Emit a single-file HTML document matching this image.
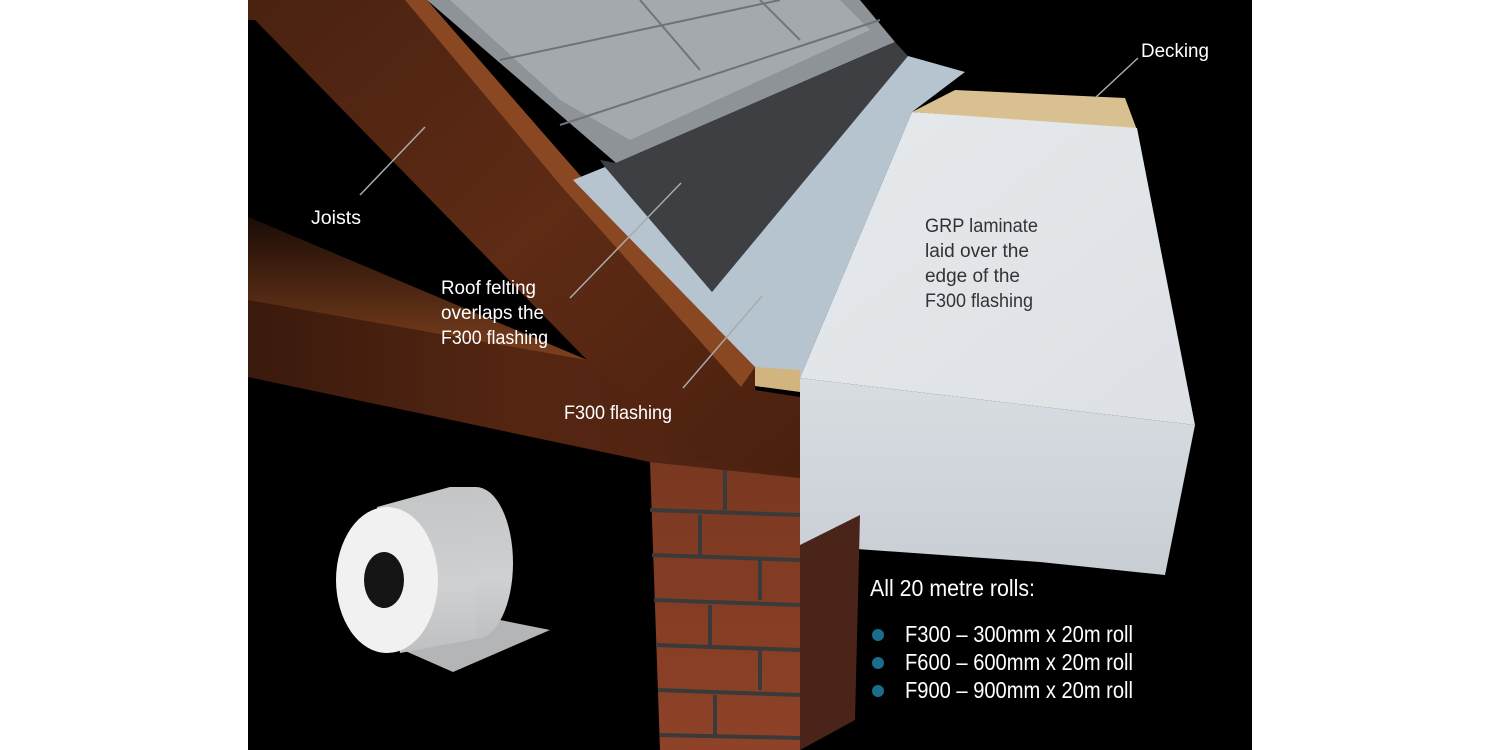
<!DOCTYPE html>
<html><head><meta charset="utf-8"><style>
html,body{margin:0;padding:0;background:#fff;}
svg{display:block}
text{font-family:"Liberation Sans Narrow","Liberation Sans",sans-serif;}
</style></head><body>
<svg width="1500" height="750" viewBox="0 0 1500 750" xmlns="http://www.w3.org/2000/svg">
<defs>
<linearGradient id="wood" x1="0" y1="0" x2="1" y2="1">
<stop offset="0" stop-color="#4a2210"/><stop offset="0.5" stop-color="#5e2b15"/><stop offset="1" stop-color="#4a200e"/>
</linearGradient>
<linearGradient id="tie" x1="0" y1="0" x2="1" y2="0">
<stop offset="0" stop-color="#3a1a0c"/><stop offset="0.5" stop-color="#552612"/><stop offset="1" stop-color="#4e2210"/>
</linearGradient>
<linearGradient id="tietop" x1="0" y1="0" x2="0" y2="1">
<stop offset="0" stop-color="#1a0c06"/><stop offset="1" stop-color="#7e401e"/>
</linearGradient>
<linearGradient id="grpf" x1="0" y1="0" x2="0" y2="1">
<stop offset="0" stop-color="#d8dde2"/><stop offset="1" stop-color="#c8ced4"/>
</linearGradient>
<linearGradient id="grpt" x1="0" y1="0" x2="1" y2="1">
<stop offset="0" stop-color="#e6e9ec"/><stop offset="1" stop-color="#dde1e5"/>
</linearGradient>
<linearGradient id="brick" x1="0" y1="0" x2="0" y2="1">
<stop offset="0" stop-color="#7a3820"/><stop offset="1" stop-color="#8e4228"/>
</linearGradient>
<linearGradient id="rollb" x1="0" y1="0" x2="0" y2="1">
<stop offset="0" stop-color="#c4c5c6"/><stop offset="0.6" stop-color="#cfd0d1"/><stop offset="1" stop-color="#bfc0c1"/>
</linearGradient>
</defs>
<rect x="248" y="0" width="1004" height="750" fill="#000"/>
<!-- tie beam -->
<polygon points="248,217 587,360 800,400 800,478 650,462 248,377" fill="url(#tie)"/>
<polygon points="248,217 587,360 248,300" fill="url(#tietop)"/>
<!-- rafter front face -->
<polygon points="248,0 427,0 584,180 755,367 755,390 800,397 800,478 700,460 587,360 255,20 248,20" fill="url(#wood)"/>
<polygon points="405,0 427,0 584,180 755,367 741,387 562,187" fill="#8a4822"/>
<!-- slates -->
<polygon points="427,0 860,0 895,42 616,163" fill="#8e9398"/>
<polygon points="450,0 840,0 870,30 630,140 560,100" fill="#a4a9ae"/>
<line x1="500" y1="60" x2="780" y2="0" stroke="#6e7377" stroke-width="2"/>
<line x1="560" y1="125" x2="880" y2="20" stroke="#6e7377" stroke-width="2"/>
<line x1="640" y1="0" x2="700" y2="70" stroke="#70757a" stroke-width="2"/>
<line x1="760" y1="0" x2="800" y2="40" stroke="#70757a" stroke-width="2"/>
<!-- felt -->
<polygon points="600,160 616,163 895,42 908,56 712,292 605,167" fill="#3d3f42"/>
<!-- flashing -->
<polygon points="573,180 605,167 712,292 908,56 965,72 912,112 800,378 755,367" fill="#b6c4d0"/>
<!-- decking -->
<polygon points="955,90 1125,98 1137,130 912,112" fill="#d9c090"/>
<polygon points="755,367 800,370 800,392 755,386" fill="#d2b47e"/>
<!-- GRP -->
<polygon points="912,112 1137,128 1195,425 800,378" fill="url(#grpt)"/>
<polygon points="800,378 1195,425 1165,575 1040,562 800,545" fill="url(#grpf)"/>
<!-- brick pillar -->
<polygon points="650,462 800,478 800,750 660,750" fill="url(#brick)"/>
<polygon points="800,545 860,515 855,720 800,750" fill="#4a2418"/>
<g stroke="#3a3a3a" stroke-width="4">
<line x1="650" y1="510" x2="800" y2="515"/><line x1="652" y1="555" x2="800" y2="560"/>
<line x1="654" y1="600" x2="800" y2="605"/><line x1="656" y1="645" x2="800" y2="650"/>
<line x1="658" y1="690" x2="800" y2="695"/><line x1="660" y1="735" x2="800" y2="738"/>
<line x1="725" y1="470" x2="725" y2="510"/><line x1="700" y1="515" x2="700" y2="555"/>
<line x1="760" y1="560" x2="760" y2="600"/><line x1="710" y1="605" x2="710" y2="645"/>
<line x1="760" y1="650" x2="760" y2="690"/><line x1="715" y1="695" x2="715" y2="735"/>
</g>
<!-- roll -->
<polygon points="403,650 490,618 550,630 453,672" fill="#b4b5b6"/>
<ellipse cx="476" cy="563" rx="37" ry="76" fill="url(#rollb)"/>
<polygon points="377,507 450,487 476,487 476,639 400,653" fill="url(#rollb)"/>
<ellipse cx="387" cy="580" rx="51" ry="73" fill="#f1f1f1"/>
<ellipse cx="384" cy="580" rx="20" ry="28" fill="#151515"/>
<!-- leaders -->
<g stroke="#aaa" stroke-width="1.5">
<line x1="425" y1="127" x2="360" y2="195"/>
<line x1="681" y1="183" x2="570" y2="298"/>
<line x1="762" y1="296" x2="683" y2="388"/>
<line x1="1138" y1="58" x2="1095" y2="98"/>
</g>
<g fill="#fff" font-size="19">
<text x="311" y="224" textLength="50" lengthAdjust="spacingAndGlyphs">Joists</text>
<text x="441" y="294" textLength="95" lengthAdjust="spacingAndGlyphs">Roof felting</text>
<text x="441" y="319" textLength="103" lengthAdjust="spacingAndGlyphs">overlaps the</text>
<text x="441" y="344" textLength="107" lengthAdjust="spacingAndGlyphs">F300 flashing</text>
<text x="564" y="419" textLength="108" lengthAdjust="spacingAndGlyphs">F300 flashing</text>
<text x="1141" y="57" textLength="68" lengthAdjust="spacingAndGlyphs">Decking</text>
</g>
<g fill="#333" font-size="19">
<text x="925" y="232" textLength="113" lengthAdjust="spacingAndGlyphs">GRP laminate</text>
<text x="925" y="257" textLength="104" lengthAdjust="spacingAndGlyphs">laid over the</text>
<text x="925" y="282" textLength="95" lengthAdjust="spacingAndGlyphs">edge of the</text>
<text x="925" y="307" textLength="108" lengthAdjust="spacingAndGlyphs">F300 flashing</text>
</g>
<g fill="#fff" font-size="23">
<text x="870" y="596" textLength="165" lengthAdjust="spacingAndGlyphs">All 20 metre rolls:</text>
<text x="905" y="642" textLength="228" lengthAdjust="spacingAndGlyphs">F300 – 300mm x 20m roll</text>
<text x="905" y="670" textLength="228" lengthAdjust="spacingAndGlyphs">F600 – 600mm x 20m roll</text>
<text x="905" y="698" textLength="228" lengthAdjust="spacingAndGlyphs">F900 – 900mm x 20m roll</text>
</g>
<g fill="#1b6d8d">
<circle cx="878" cy="635" r="6"/><circle cx="878" cy="663" r="6"/><circle cx="878" cy="691" r="6"/>
</g>
</svg>
</body></html>
